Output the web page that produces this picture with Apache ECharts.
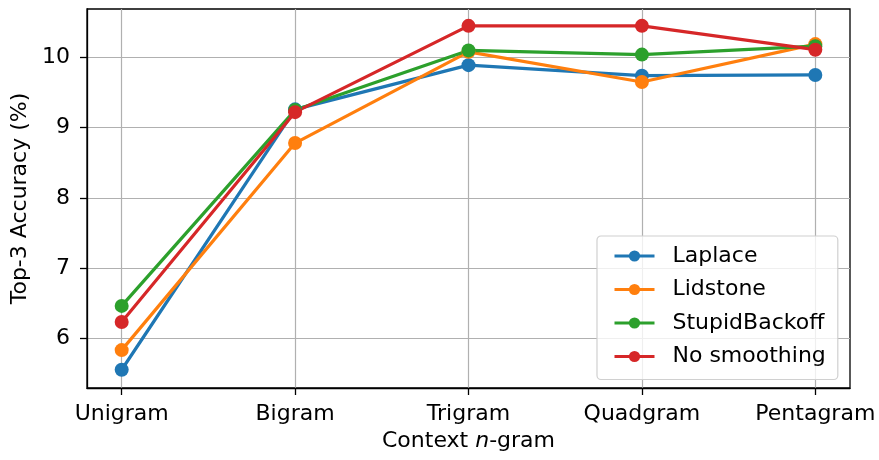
<!DOCTYPE html>
<html>
<head>
<meta charset="utf-8">
<script src="https://cdn.jsdelivr.net/npm/echarts@6/dist/echarts.min.js"></script>
<style>
  html, body { margin: 0; padding: 0; background: #fff; }
  #chart { width: 879px; height: 460px; }
</style>
</head>
<body>
<div id="chart"></div>
<script>
// Context sizes on the x axis
const categories = ['Unigram', 'Bigram', 'Trigram', 'Quadgram', 'Pentagram'];

// Top-3 accuracy (%) per smoothing method
const laplace       = [5.55, 9.26, 9.89, 9.74, 9.75];
const lidstone      = [5.83, 8.78, 10.08, 9.65, 10.19];
const stupidBackoff = [6.46, 9.25, 10.10, 10.04, 10.16];
const noSmoothing   = [6.23, 9.22, 10.45, 10.45, 10.11];

const seriesNames = ['Laplace', 'Lidstone', 'StupidBackoff', 'No smoothing'];
const seriesValues = [laplace, lidstone, stupidBackoff, noSmoothing];
const colors = ['#1f77b4', '#ff7f0e', '#2ca02c', '#d62728'];

const yTicks = [6, 7, 8, 9, 10];
const xTicks = categories.map((_, i) => i);

const FONT = 'DejaVu Sans';
const FS = 22;

const chart = echarts.init(document.getElementById('chart'), null, { renderer: 'canvas' });

chart.setOption({
  animation: false,
  backgroundColor: '#ffffff',
  textStyle: { fontFamily: FONT, color: '#000' },
  grid: {
    left: 87, top: 9, right: 29, bottom: 72,
    show: true, borderColor: '#000', borderWidth: 1.3, backgroundColor: 'transparent'
  },
  legend: {
    orient: 'vertical',
    left: 597, top: 236,
    padding: [8, 12, 11, 16],
    itemGap: 9.5,
    itemWidth: 40, itemHeight: 14,
    backgroundColor: 'rgba(255,255,255,0.8)',
    borderColor: '#d0d0d0', borderWidth: 1.2, borderRadius: 4,
    lineStyle: { width: 3 },
    textStyle: { fontFamily: FONT, fontSize: FS, color: '#000', lineHeight: 24, padding: [0, 0, 0, 13] },
    data: seriesNames
  },
  xAxis: {
    type: 'value',
    min: -0.2, max: 4.2,
    name: '{a|Context }{i|n}{a|-gram}',
    nameLocation: 'middle',
    nameGap: 36,
    nameTextStyle: {
      rich: {
        a: { fontFamily: FONT, fontSize: FS, color: '#000' },
        i: { fontFamily: FONT, fontSize: FS, fontStyle: 'italic', color: '#000' }
      }
    },
    axisLine: { show: true, onZero: false, lineStyle: { color: '#000', width: 1.3 } },
    axisTick: { show: true, customValues: xTicks, length: 7, lineStyle: { color: '#000', width: 1.3 } },
    axisLabel: {
      customValues: xTicks, margin: 15,
      fontFamily: FONT, fontSize: FS, color: '#000',
      formatter: v => categories[Math.round(v)] || ''
    },
    splitLine: { show: true, lineStyle: { color: '#b0b0b0', width: 1.2 } }
  },
  yAxis: {
    type: 'value',
    min: 5.29, max: 10.69,
    name: 'Top-3 Accuracy (%)',
    nameLocation: 'middle',
    nameGap: 53,
    nameRotate: 90,
    nameTextStyle: { fontFamily: FONT, fontSize: FS, color: '#000' },
    axisLine: { show: true, onZero: false, lineStyle: { color: '#000', width: 1.3 } },
    axisTick: { show: true, customValues: yTicks, length: 7, lineStyle: { color: '#000', width: 1.3 } },
    axisLabel: { customValues: yTicks, margin: 17, fontFamily: FONT, fontSize: FS, color: '#000' },
    splitLine: { show: true, lineStyle: { color: '#b0b0b0', width: 1.2 } }
  },
  series: seriesNames.map((name, k) => ({
    name,
    type: 'line',
    data: seriesValues[k].map((v, i) => [i, v]),
    symbol: 'circle',
    symbolSize: 14,
    lineStyle: { width: 3.2, color: colors[k] },
    itemStyle: { color: colors[k], borderWidth: 0 },
    emphasis: { disabled: true }
  }))
});
</script>
</body>
</html>
